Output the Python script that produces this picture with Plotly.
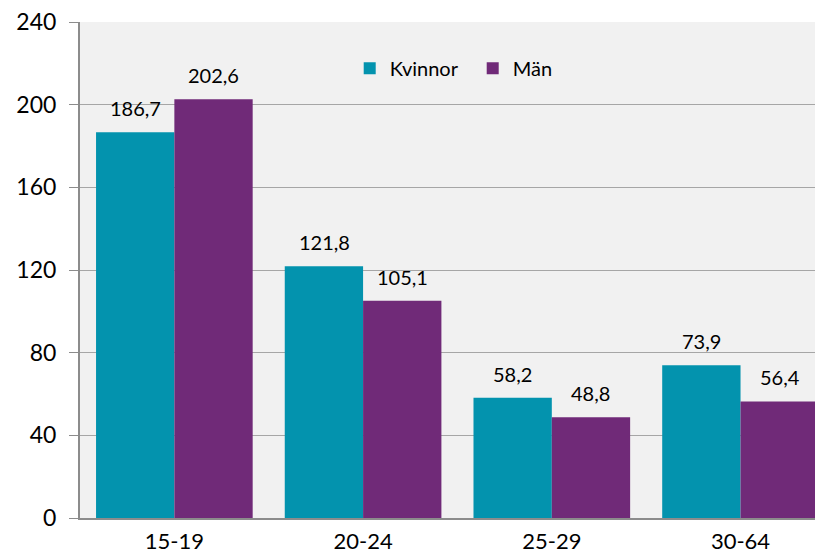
import plotly.graph_objects as go

categories = ["15-19", "20-24", "25-29", "30-64"]
kvinnor = [186.7, 121.8, 58.2, 73.9]
man = [202.6, 105.1, 48.8, 56.4]
y_ticks = [0, 40, 80, 120, 160, 200, 240]

FONT = "Lato"
FS = 20
TFS = 23

def fmt(v):
    return f"{v:.1f}".replace(".", ",")

fig = go.Figure()
fig.add_trace(go.Bar(
    x=categories, y=kvinnor, name="Kvinnor",
    marker=dict(color="#0393AE", line=dict(width=0)),
))
fig.add_trace(go.Bar(
    x=categories, y=man, name="Män",
    marker=dict(color="#702A78", line=dict(width=0)),
))

# data labels above bars
for series, shift in ((kvinnor, -39), (man, 39)):
    for c, v in zip(categories, series):
        fig.add_annotation(
            x=c, y=v, xref="x", yref="y", text=fmt(v), showarrow=False,
            xshift=shift, yshift=24, yanchor="middle",
            font=dict(size=FS, family=FONT, color="#000000"),
        )

fig.update_layout(
    width=815, height=549,
    margin=dict(l=72, r=0, t=14, b=39),
    paper_bgcolor="white",
    plot_bgcolor="#F1F1F1",
    barmode="group",
    bargap=0.17,
    bargroupgap=0,
    font=dict(family=FONT, size=FS, color="#000000"),
    showlegend=True,
    legend=dict(
        orientation="h", x=0.363, y=0.907, xanchor="left", yanchor="middle",
        bgcolor="rgba(0,0,0,0)", font=dict(size=FS, family=FONT),
        itemwidth=30, traceorder="normal", entrywidth=78,
    ),
    xaxis=dict(
        range=[-0.5, 3.437], automargin=False,
        showgrid=False, showline=True, linecolor="#8C8C8C", linewidth=2,
        ticks="", ticklabelstandoff=3, ticklabeloverflow="allow",
        tickfont=dict(size=22, family=FONT),
    ),
    yaxis=dict(
        range=[0, 240], tickvals=y_ticks, automargin=False,
        showgrid=True, gridcolor="#A6A6A6", gridwidth=1,
        showline=True, linecolor="#8C8C8C", linewidth=2,
        ticks="outside", ticklen=9, tickcolor="#8C8C8C",
        ticklabelstandoff=8, ticklabeloverflow="allow",
        tickfont=dict(size=TFS, family=FONT),
        zeroline=False,
    ),
)

fig.write_html("out.html")
